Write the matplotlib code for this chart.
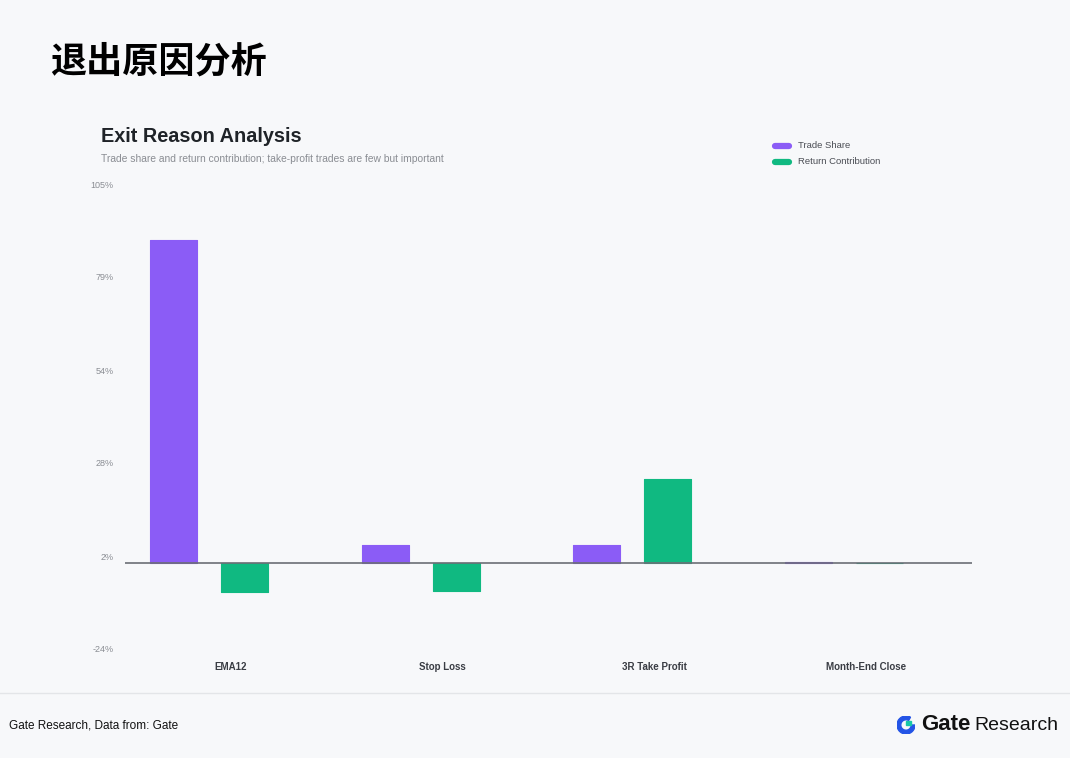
import matplotlib
matplotlib.use("Agg")
import matplotlib.pyplot as plt
import numpy as np
from matplotlib.lines import Line2D
from matplotlib.patches import Wedge, Rectangle

plt.rcParams['font.family'] = ['Liberation Sans', 'DejaVu Sans']

categories = ["EMA12", "Stop Loss", "3R Take Profit", "Month-End Close"]
trade_share = [89.5, 5.0, 5.0, 0.3]
return_contribution = [-8.0, -7.6, 23.3, 0.1]
ytick_vals = [-23.75, 2.0, 27.75, 53.5, 79.25, 105.0]
ytick_labels = ["-24%", "2%", "28%", "54%", "79%", "105%"]
series_names = ["Trade Share", "Return Contribution"]

BG = "#f7f8fa"
PURPLE = "#8b5cf6"
GREEN = "#10b981"

fig = plt.figure(figsize=(10.7, 7.58), dpi=100, facecolor=BG)
ax = fig.add_axes([125/1070, 1-649/758, 847/1070, (649-184)/758])
ax.set_facecolor(BG)

x = np.arange(len(categories))
w = 0.222
ax.bar(x - 0.271, trade_share, width=w, color=PURPLE, edgecolor=PURPLE, linewidth=0.8, joinstyle='round', zorder=2)
ax.bar(x + 0.064, return_contribution, width=w, color=GREEN, edgecolor=GREEN, linewidth=0.8, joinstyle='round', zorder=2)
ax.axhline(0, color="#6b6e75", linewidth=1.2, zorder=3)

ax.set_xlim(-0.5, len(categories) - 0.5)
ax.set_ylim(-23.75, 105)
ax.set_yticks(ytick_vals)
ax.set_yticklabels(ytick_labels, fontsize=6.5, color="#8a8d93")
ax.set_xticks(x)
ax.set_xticklabels(categories, fontsize=7, color="#3a3d44", fontweight='bold')
ax.tick_params(axis='both', length=0)
ax.tick_params(axis='y', pad=8)
ax.tick_params(axis='x', pad=9)
for s in ax.spines.values():
    s.set_visible(False)

# Titles
fig.text(50/1070, 1-62/758, "退出原因分析", fontsize=26, fontweight='bold', va='center', ha='left',
         family=['Noto Sans CJK SC', 'DejaVu Sans'], color="#000000")
fig.text(101/1070, 1-136/758, "Exit Reason Analysis", fontsize=14.3, fontweight='bold', va='center', ha='left', color="#1f2328")
fig.text(101/1070, 1-159/758, "Trade share and return contribution; take-profit trades are few but important",
         fontsize=7.4, va='center', ha='left', color="#8a8d93")

# Legend
for i, (name, col) in enumerate(zip(series_names, [PURPLE, GREEN])):
    yy = 1 - (146 + 16*i)/758
    fig.add_artist(Line2D([775/1070, 789/1070], [yy, yy], color=col, linewidth=4.5, solid_capstyle='round'))
    fig.text(798/1070, yy, name, fontsize=6.8, va='center', ha='left', color="#4a4d54")

# Footer
fig.add_artist(Line2D([0, 1], [1-693/758, 1-693/758], color="#e3e5e8", linewidth=1))
fig.text(9/1070, 1-725/758, "Gate Research, Data from: Gate", fontsize=8.5, va='center', ha='left', color="#111111")
fig.text(1058/1070, 1-725/758, "Research", fontsize=14, va='center', ha='right', color="#111111")
fig.text(971/1070, 1-724/758, "Gate", fontsize=16, fontweight='bold', va='center', ha='right', color="#111111")

# Logo icon
lax = fig.add_axes([897/1070, 1-734/758, 18/1070, 18/758])
lax.set_xlim(-1, 1); lax.set_ylim(-1, 1); lax.set_aspect('equal'); lax.axis('off')
lax.add_patch(Wedge((0, 0), 1.0, 60, 360, width=0.42, color="#2354e6"))
lax.add_patch(Rectangle((0.0, -0.02), 0.5, 0.5, color="#17c7a8"))

fig.savefig("out.png", dpi=100, facecolor=BG)
